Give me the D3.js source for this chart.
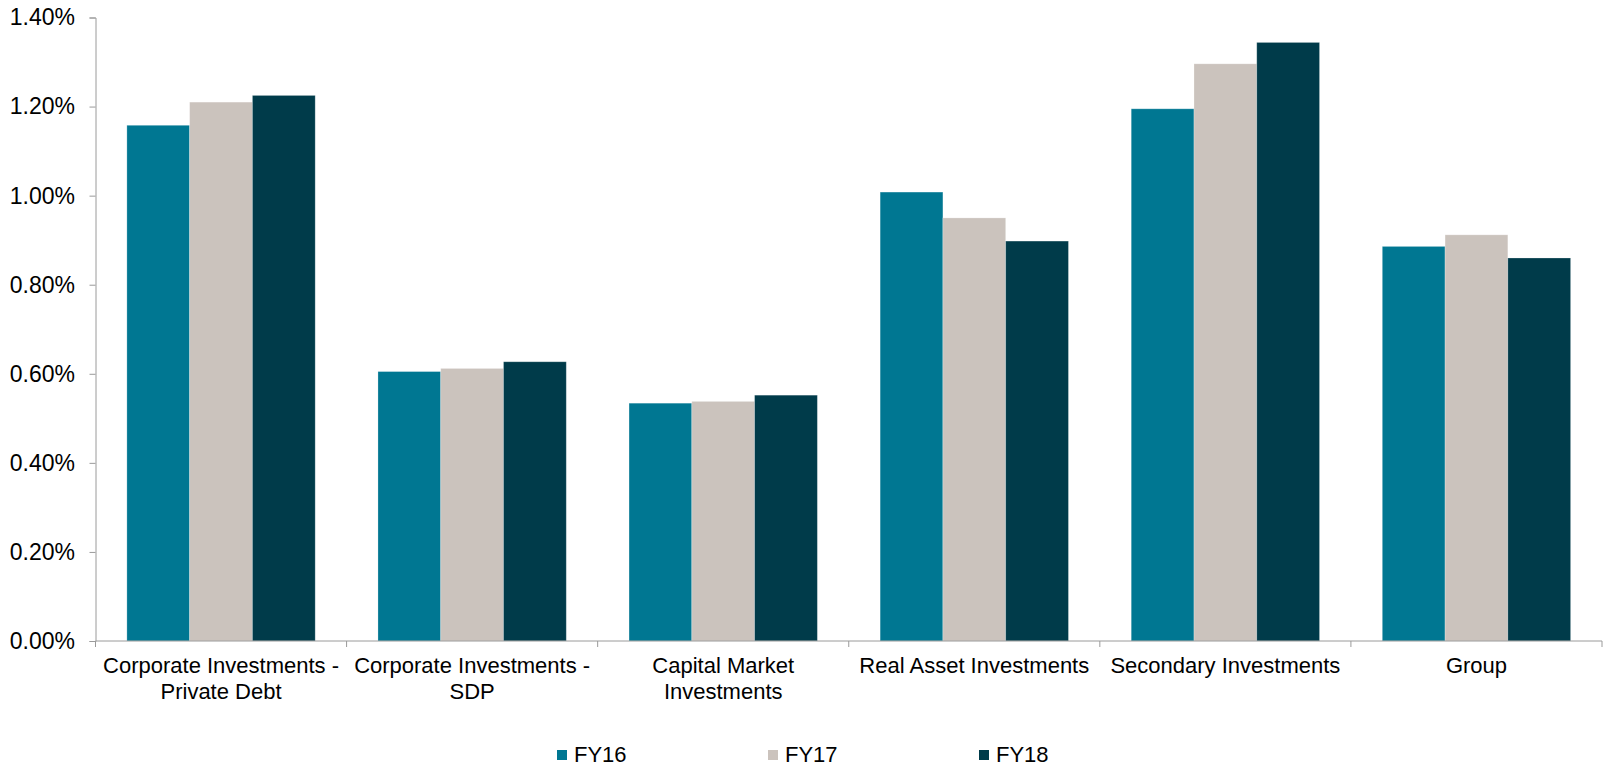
<!DOCTYPE html>
<html>
<head>
<meta charset="utf-8">
<script src="https://cdn.jsdelivr.net/npm/d3@7"></script>
<style>
  html, body { margin: 0; padding: 0; background: #fff; }
  svg { display: block; font-family: "Liberation Sans", Arial, sans-serif; }
</style>
</head>
<body>
<svg id="chart" width="1605" height="766"></svg>
<script>
// Business segments shown along the x axis (each label split into lines)
const categories = [
  "Corporate Investments - Private Debt",
  "Corporate Investments - SDP",
  "Capital Market Investments",
  "Real Asset Investments",
  "Secondary Investments",
  "Group"
];
const categoryLines = [
  ["Corporate Investments -", "Private Debt"],
  ["Corporate Investments -", "SDP"],
  ["Capital Market", "Investments"],
  ["Real Asset Investments"],
  ["Secondary Investments"],
  ["Group"]
];

// Fiscal-year series, values in percent
const seriesNames = ["FY16", "FY17", "FY18"];
const fy16 = [1.158, 0.605, 0.534, 1.008, 1.195, 0.886];
const fy17 = [1.210, 0.612, 0.538, 0.950, 1.296, 0.912];
const fy18 = [1.225, 0.627, 0.552, 0.898, 1.344, 0.860];
const seriesValues = [fy16, fy17, fy18];
const seriesColors = ["#007792", "#cbc3bd", "#003b4a"];

// Y-axis ticks (percent)
const yTicks = [0, 0.2, 0.4, 0.6, 0.8, 1.0, 1.2, 1.4];

const svg = d3.select("#chart");
const plotLeft = 95.5, plotRight = 1602, plotTop = 17.5, plotBottom = 641;
const axisColor = "#9a9a9a";
const fontSize = 22;

const x = d3.scaleBand().domain(categories).range([plotLeft, plotRight]).padding(0);
const bw = x.bandwidth();
const xInner = d3.scaleBand().domain(seriesNames)
  .range([bw * 0.125, bw * 0.875]).padding(0);
const y = d3.scaleLinear().domain([0, 1.4]).range([plotBottom, plotTop]);

// Bars
const rows = [];
categories.forEach((c, i) => {
  seriesNames.forEach((s, j) => rows.push({ c, s, v: seriesValues[j][i], color: seriesColors[j] }));
});
svg.append("g").selectAll("rect").data(rows).join("rect")
  .attr("x", d => x(d.c) + xInner(d.s))
  .attr("y", d => y(d.v))
  .attr("width", xInner.bandwidth())
  .attr("height", d => y(0) - y(d.v))
  .attr("fill", d => d.color)
  .attr("stroke", "#ffffff")
  .attr("stroke-opacity", 0.3)
  .attr("stroke-width", 0.8);

// Y axis
const yAxis = d3.axisLeft(y).tickValues(yTicks)
  .tickFormat(d => d.toFixed(2) + "%").tickSize(6).tickPadding(14.5);
const gy = svg.append("g").attr("transform", `translate(${plotLeft},0)`).call(yAxis);
gy.select(".domain").attr("stroke", axisColor);
gy.selectAll(".tick line").attr("stroke", axisColor);
gy.selectAll(".tick text").attr("fill", "#000").attr("font-size", 23)
  .attr("font-family", "Liberation Sans, Arial, sans-serif");

// X axis with ticks at band boundaries
const gx = svg.append("g").attr("transform", `translate(0,${plotBottom})`);
gx.append("line").attr("x1", plotLeft).attr("x2", plotRight).attr("stroke", axisColor);
const boundaries = categories.map(c => x(c)).concat([plotRight]);
gx.selectAll("line.tk").data(boundaries).join("line").attr("class", "tk")
  .attr("x1", d => d).attr("x2", d => d).attr("y1", 0).attr("y2", 6)
  .attr("stroke", axisColor);

// Category labels
const labels = svg.append("g").attr("font-size", fontSize).attr("fill", "#000")
  .attr("text-anchor", "middle");
categories.forEach((c, i) => {
  const t = labels.append("text").attr("x", x(c) + bw / 2).attr("y", 672.5);
  categoryLines[i].forEach((line, k) => {
    t.append("tspan").attr("x", x(c) + bw / 2).attr("dy", k === 0 ? 0 : 26).text(line);
  });
});

// Legend
const legend = svg.append("g").attr("font-size", fontSize);
seriesNames.forEach((s, j) => {
  const lx = 557 + j * 211;
  legend.append("rect").attr("x", lx).attr("y", 750).attr("width", 10).attr("height", 10)
    .attr("fill", seriesColors[j]);
  legend.append("text").attr("x", lx + 17).attr("y", 762).attr("fill", "#000").text(s);
});
</script>
</body>
</html>
